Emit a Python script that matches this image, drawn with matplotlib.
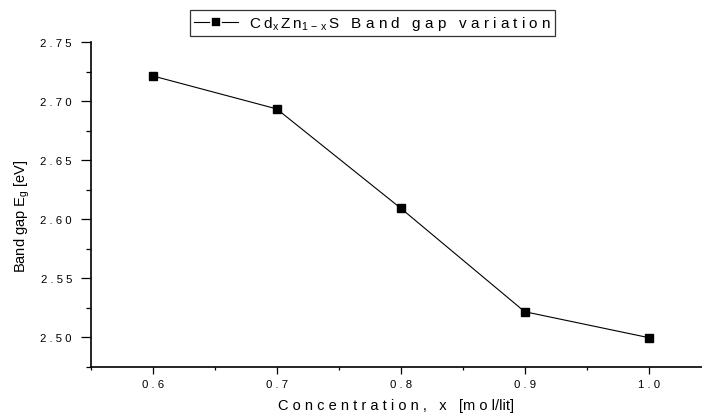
import matplotlib
matplotlib.use("Agg")
import matplotlib.pyplot as plt
from matplotlib.ticker import MultipleLocator, FuncFormatter

plt.rcParams['font.family'] = ['Liberation Sans', 'DejaVu Sans']
plt.rcParams['mathtext.fontset'] = 'custom'
plt.rcParams['mathtext.rm'] = 'Liberation Sans'
plt.rcParams['mathtext.it'] = 'Liberation Sans'
plt.rcParams['mathtext.default'] = 'regular'

concentration = [0.6, 0.7, 0.8, 0.9, 1.0]
band_gap = [2.7215, 2.6935, 2.6093, 2.5215, 2.4995]
series_label = (r"$C\;d_{x}\,Z\;n_{1\,-\,x}\,S$"
                "   B a n d   g a p   v a r i a t i o n")
x_label = "C o n c e n t r a t i o n ,   x   [m o l/lit]"
y_label = "Band gap E$_{g}$ [eV]"

W, H = 702, 414
fig = plt.figure(figsize=(W / 100, H / 100), dpi=100)
left, right, top, bottom = 90.7, 702, 43.3, 368
ax = fig.add_axes([left / W, 1 - bottom / H, (right - left) / W, (bottom - top) / H])

ax.plot(concentration, band_gap, color='black', lw=0.8, marker='s',
        markersize=6, markerfacecolor='black', markeredgecolor='black',
        label=series_label)

ax.set_xlim(0.55, 0.6 + (702 - 152.7) / 1240)
ax.set_ylim(2.4746, 2.75)

ax.xaxis.set_major_locator(MultipleLocator(0.1))
ax.xaxis.set_minor_locator(MultipleLocator(0.05))
ax.yaxis.set_major_locator(MultipleLocator(0.05))
ax.yaxis.set_minor_locator(MultipleLocator(0.025))

def spaced(fmt):
    return FuncFormatter(lambda v, p: " ".join(fmt.format(v)))

ax.xaxis.set_major_formatter(spaced("{:.1f}"))
ax.yaxis.set_major_formatter(spaced("{:.2f}"))

for s in ['top', 'right']:
    ax.spines[s].set_visible(False)
for s in ['left', 'bottom']:
    ax.spines[s].set_linewidth(1.2)

ax.tick_params(axis='y', which='major', length=7, width=0.9, pad=6.5, labelsize=8.2)
ax.tick_params(axis='y', which='minor', length=3.5, width=0.9)
ax.tick_params(axis='x', which='major', length=5, width=0.9, pad=3.5, labelsize=8.2)
ax.tick_params(axis='x', which='minor', length=2.5, width=0.9)

ax.set_xlabel(x_label, fontsize=10.5, labelpad=6.5)
ax.set_ylabel(y_label, fontsize=10.5)
ax.yaxis.set_label_coords((32 - left) / (right - left), 1 - (216 - top) / (bottom - top))

leg = ax.legend(loc='center', bbox_to_anchor=(372.5 / W, 1 - 24 / H),
                bbox_transform=fig.transFigure, fontsize=11, frameon=True,
                fancybox=False, handlelength=2.9, handletextpad=0.7,
                borderpad=0.25, borderaxespad=0)
leg.get_frame().set_edgecolor('black')
leg.get_frame().set_linewidth(0.9)
for h in leg.legend_handles:
    h.set_markersize(6.5)
    h.set_markeredgecolor('white')
    h.set_markeredgewidth(1.2)

fig.savefig("out.png", dpi=100)
